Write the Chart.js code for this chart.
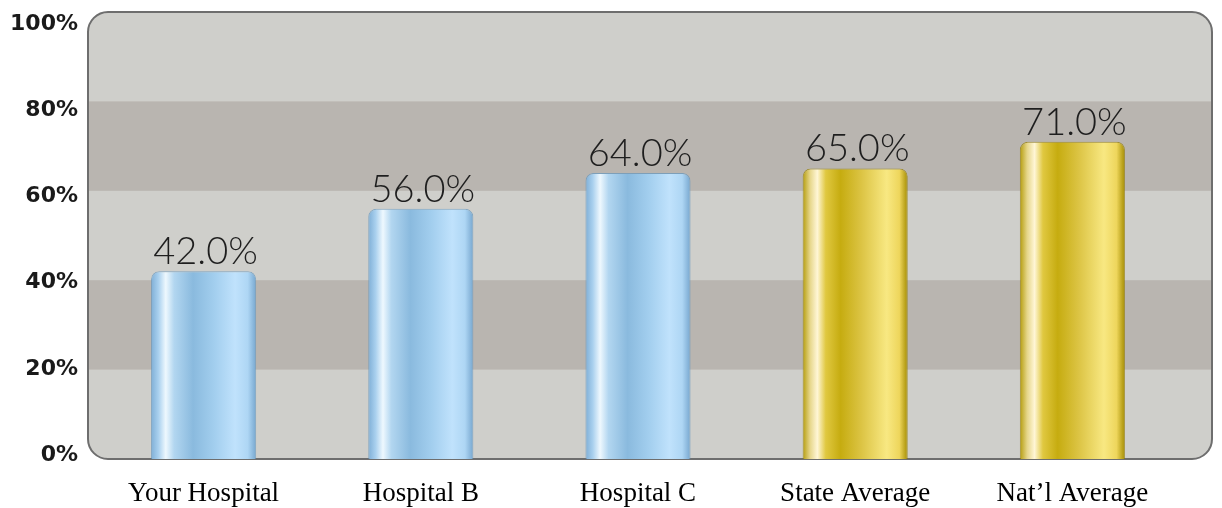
<!DOCTYPE html>
<html>
<head>
<meta charset="utf-8">
<script src="https://cdn.jsdelivr.net/npm/chart.js@4"></script>
<style>
html,body{margin:0;padding:0;background:#ffffff;}
#wrap{width:1222px;height:508px;position:relative;}
</style>
</head>
<body>
<div id="wrap"><canvas id="c" width="1222" height="508"></canvas></div>
<script>
const categories = ["Your Hospital", "Hospital B", "Hospital C", "State Average", "Nat\u2019l Average"];
const values = [42, 56, 64, 65, 71];
const valueLabels = ["42.0%", "56.0%", "64.0%", "65.0%", "71.0%"];
const groups = ["hospital", "hospital", "hospital", "average", "average"];
const yTicks = [0, 20, 40, 60, 80, 100];

const blueStops = [[0,'#7eaed6'],[0.07,'#a9d0ee'],[0.14,'#eef8fe'],[0.22,'#b2d6f0'],[0.4,'#8abade'],[0.6,'#a2ceee'],[0.8,'#c0e2fc'],[0.92,'#aed6f4'],[1,'#76a6ce']];
const goldStops = [[0,'#b49c0c'],[0.07,'#e6d68a'],[0.14,'#fff6d6'],[0.22,'#e0c840'],[0.36,'#c6ac10'],[0.56,'#dcc444'],[0.8,'#f8e882'],[0.92,'#eed65c'],[1,'#a48c00']];

function barFill(ctx) {
  const chart = ctx.chart;
  const xs = chart.scales.x;
  if (!chart.chartArea || !xs) return '#9cc8ea';
  const stops = groups[ctx.dataIndex] === 'average' ? goldStops : blueStops;
  const cx = xs.getPixelForValue(ctx.dataIndex);
  const w = xs.width / categories.length * 0.484;
  const g = chart.ctx.createLinearGradient(cx - w / 2, 0, cx + w / 2, 0);
  stops.forEach(s => g.addColorStop(s[0], s[1]));
  return g;
}

function roundRectPath(c, x, y, w, h, r) {
  c.beginPath();
  c.moveTo(x + r, y);
  c.lineTo(x + w - r, y);
  c.arcTo(x + w, y, x + w, y + r, r);
  c.lineTo(x + w, y + h - r);
  c.arcTo(x + w, y + h, x + w - r, y + h, r);
  c.lineTo(x + r, y + h);
  c.arcTo(x, y + h, x, y + h - r, r);
  c.lineTo(x, y + r);
  c.arcTo(x, y, x + r, y, r);
  c.closePath();
}

const backdrop = {
  id: 'backdrop',
  beforeDatasetsDraw(chart) {
    const c = chart.ctx, a = chart.chartArea, ys = chart.scales.y;
    const x0 = a.left - 7, x1 = a.right + 31, y0 = a.top, y1 = a.bottom;
    c.save();
    roundRectPath(c, x0, y0, x1 - x0, y1 - y0, 20);
    c.fillStyle = '#cfcfcb';
    c.fill();
    c.clip();
    for (let i = 0; i < yTicks.length - 1; i++) {
      if (i % 2 === 1) {
        const top = ys.getPixelForValue(yTicks[i + 1]);
        const bot = ys.getPixelForValue(yTicks[i]);
        c.fillStyle = '#b9b5b0';
        c.fillRect(x0, top, x1 - x0, bot - top);
      }
    }
    c.restore();
    c.save();
    roundRectPath(c, x0, y0, x1 - x0, y1 - y0, 20);
    c.lineWidth = 2;
    c.strokeStyle = '#6e6e6e';
    c.stroke();
    c.restore();
  }
};

const valueText = {
  id: 'valueText',
  afterDatasetsDraw(chart) {
    const c = chart.ctx;
    const meta = chart.getDatasetMeta(0);
    c.save();
    c.font = '300 38px Lato, "Noto Sans", sans-serif';
    c.fillStyle = '#1e1e1e';
    c.textAlign = 'center';
    c.textBaseline = 'alphabetic';
    meta.data.forEach((el, i) => {
      c.fillText(valueLabels[i], el.x + 2, el.y - 7);
    });
    c.restore();
  }
};

new Chart(document.getElementById('c'), {
  type: 'bar',
  data: {
    labels: categories,
    datasets: [{
      data: values,
      backgroundColor: barFill,
      borderColor: (ctx) => groups[ctx.dataIndex] === 'average' ? 'rgba(150,125,0,0.7)' : 'rgba(100,150,190,0.7)',
      borderWidth: 1,
      borderSkipped: 'start',
      borderRadius: {topLeft: 8, topRight: 8, bottomLeft: 0, bottomRight: 0},
      categoryPercentage: 1,
      barPercentage: 0.484
    }]
  },
  options: {
    responsive: false,
    animation: false,
    devicePixelRatio: 1,
    layout: {padding: {top: 12, right: 41, left: 0, bottom: 0}},
    plugins: {legend: {display: false}, tooltip: {enabled: false}},
    scales: {
      x: {
        grid: {display: false, drawTicks: false},
        border: {display: false},
        ticks: {
          color: '#000',
          padding: 19,
          font: {family: '"Liberation Serif", "Times New Roman", serif', size: 27, lineHeight: 1.2}
        },
        afterFit(s) { s.height = 49; s.paddingLeft = 0; s.paddingRight = 0; }
      },
      y: {
        min: 0, max: 100,
        display: false
      },
      yLabels: {
        position: 'left',
        min: -0.9, max: 102.8,
        grid: {display: false, drawTicks: false},
        border: {display: false},
        afterBuildTicks(s) { s.ticks = yTicks.map(v => ({value: v})); },
        ticks: {
          color: '#1a1a1a',
          padding: 17,
          font: {family: '"DejaVu Sans", sans-serif', size: 22, weight: 'bold'},
          callback: (v) => v + '%'
        },
        afterFit(s) { s.width = 95; s.paddingTop = 0; s.paddingBottom = 0; }
      }
    }
  },
  plugins: [backdrop, valueText]
});
</script>
</body>
</html>
